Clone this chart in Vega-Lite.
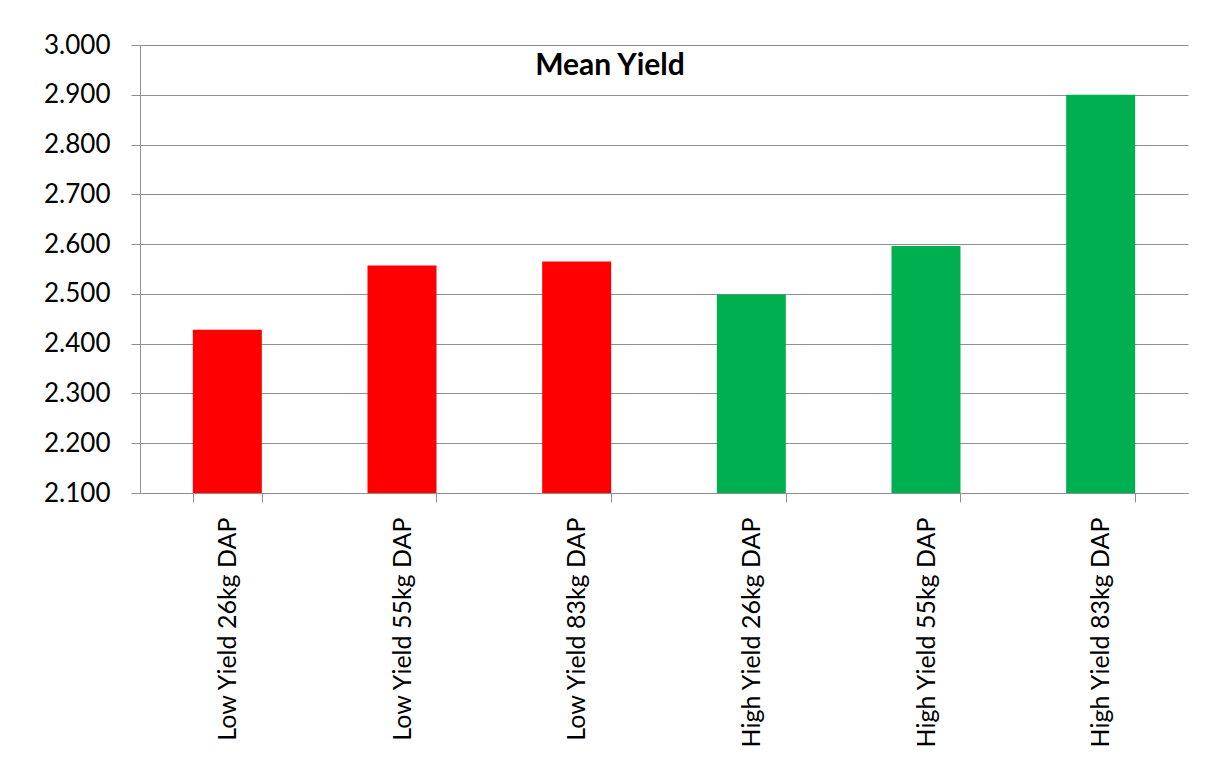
{
  "$schema": "https://vega.github.io/schema/vega-lite/v6.json",
  "autosize": {"type": "none"},
  "padding": {"left": 140, "top": 45, "right": 19, "bottom": 274},
  "width": 1048,
  "height": 448,
  "background": "#ffffff",
  "title": {
    "text": "Mean Yield",
    "font": "Lato",
    "fontSize": 30,
    "fontWeight": "bold",
    "color": "#000000",
    "anchor": "middle",
    "frame": "group",
    "baseline": "middle",
    "offset": 0,
    "dx": -54,
    "dy": 64
  },
  "data": {
    "values": [
      {"category": "Low Yield 26kg DAP", "group": "Low Yield", "yield": 2.428},
      {"category": "Low Yield 55kg DAP", "group": "Low Yield", "yield": 2.557},
      {"category": "Low Yield 83kg DAP", "group": "Low Yield", "yield": 2.565},
      {"category": "High Yield 26kg DAP", "group": "High Yield", "yield": 2.499},
      {"category": "High Yield 55kg DAP", "group": "High Yield", "yield": 2.596},
      {"category": "High Yield 83kg DAP", "group": "High Yield", "yield": 2.900}
    ]
  },
  "mark": {"type": "bar", "clip": true},
  "encoding": {
    "x": {
      "field": "category",
      "type": "nominal",
      "sort": null,
      "scale": {"paddingInner": 0.605, "paddingOuter": 0.3025},
      "axis": {
        "title": null,
        "labelAngle": -90,
        "labelAlign": "right",
        "labelBaseline": "middle",
        "labelFont": "Lato",
        "labelFontSize": 25,
        "labelColor": "#000000",
        "labelPadding": 15,
        "tickBand": "extent",
        "tickSize": 9,
        "tickColor": "#8f8f8f",
        "domainColor": "#8f8f8f",
        "labelLimit": 400
      }
    },
    "y": {
      "field": "yield",
      "type": "quantitative",
      "scale": {"domain": [2.1, 3.0], "zero": false, "nice": false},
      "axis": {
        "title": null,
        "values": [2.1, 2.2, 2.3, 2.4, 2.5, 2.6, 2.7, 2.8, 2.9, 3.0],
        "format": ".3f",
        "labelFont": "Lato",
        "labelFontSize": 26,
        "labelColor": "#000000",
        "labelPadding": 21,
        "tickSize": 9,
        "tickColor": "#8f8f8f",
        "domainColor": "#8f8f8f",
        "grid": true,
        "gridColor": "#8f8f8f",
        "gridWidth": 1
      }
    },
    "color": {
      "field": "group",
      "type": "nominal",
      "scale": {"domain": ["Low Yield", "High Yield"], "range": ["#ff0000", "#00b050"]},
      "legend": null
    }
  },
  "config": {
    "view": {"stroke": null},
    "axis": {"domainWidth": 1, "tickWidth": 1}
  }
}
